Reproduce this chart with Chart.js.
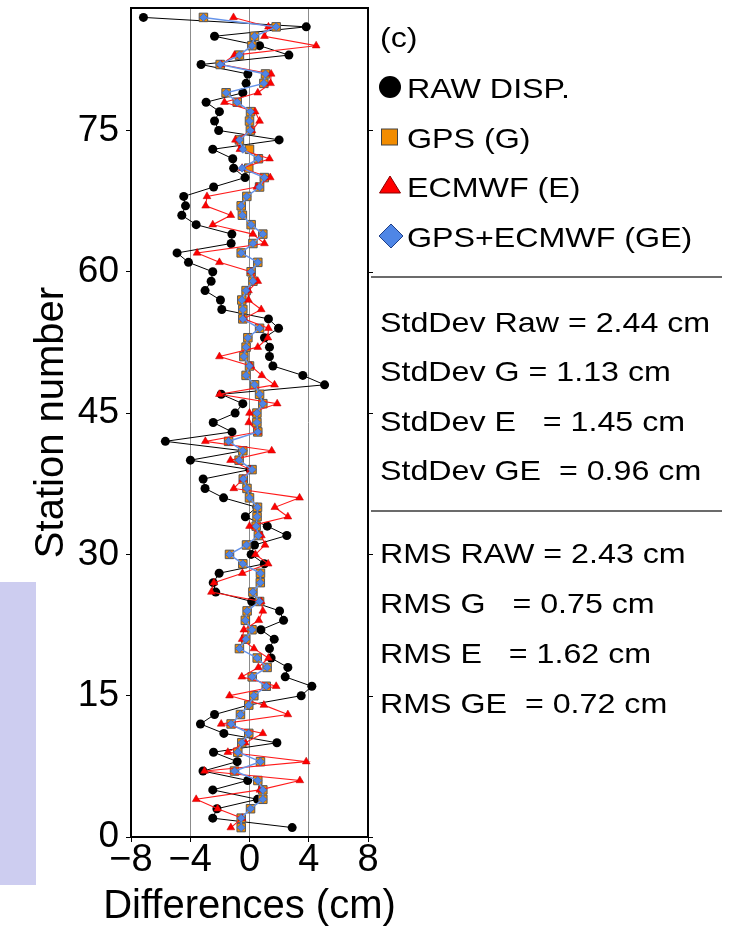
<!DOCTYPE html>
<html>
<head>
<meta charset="utf-8">
<script src="https://cdn.jsdelivr.net/npm/chart.js@4.4.0/dist/chart.umd.min.js"></script>
<style>
  html, body { margin: 0; padding: 0; background: #fff; }
  #wrap { position: relative; width: 738px; height: 928px; }
</style>
</head>
<body>
<div id="wrap"><canvas id="profile" width="738" height="928"></canvas></div>
<script>
// Station numbers along the profile
const stations = [
  1, 2, 3, 4, 5, 6, 7, 8, 9, 10, 11, 12, 13, 14, 15, 16, 17, 18, 19, 20,
  21, 22, 23, 24, 25, 26, 27, 28, 29, 30, 31, 32, 33, 34, 35, 36, 37, 38, 39, 40,
  41, 42, 43, 44, 45, 46, 47, 48, 49, 50, 51, 52, 53, 54, 55, 56, 57, 58, 59, 60,
  61, 62, 63, 64, 65, 66, 67, 68, 69, 70, 71, 72, 73, 74, 75, 76, 77, 78, 79, 80,
  81, 82, 83, 84, 85, 86, 87
];

// Differences (cm) per station
const rawDisp = [
  2.88, -2.48, -2.2, 0.54, -2.48, -0.12, -3.14, -0.83, -2.43, 1.85,
  -1.73, -3.31, -2.36, -0.07, 3.49, 4.21, 2.41, 2.59, 1.46, 1.35,
  1.67, 0.77, 2.3, 2.03, 0.15, -2.28, -2.45, -2.05, 1.0, 0.11,
  0.34, 2.52, 1.2, -0.28, 0.5, -1.75, -3.0, -3.13, 0.03, -3.99,
  -0.45, -5.68, -1.18, -2.45, -0.97, -0.45, -1.91, 5.07, 3.6, 1.58,
  1.35, 1.35, 1.01, 1.96, 1.28, -1.87, -1.96, -3.0, -2.59, -2.48,
  -4.12, -4.89, -1.24, -1.19, -3.6, -4.57, -4.32, -4.44, -2.42, -0.3,
  -1.07, -1.13, -2.48, 2.0, -2.08, -2.36, -2.03, -2.93, -0.45, -0.23,
  -0.11, -3.27, 2.66, 0.68, -2.36, 3.83, -7.16
];
const gpsCorr = [
  -0.56, -0.56, 0.07, 0.9, 0.9, 0.56, -1.01, 0.74, -0.79, -0.52,
  -0.05, -1.24, -0.61, -0.05, 0.29, 1.13, 0.18, 1.19, 0.52, -0.68,
  -0.25, 0.17, -0.28, -0.16, 0.68, 0.23, 0.73, 0.74, -0.45, -1.35,
  -0.2, 0.6, 0.45, 0.51, 0.54, 0.0, -0.17, -0.42, 0.17, -0.7,
  -0.45, -1.41, 0.56, 0.5, 0.5, 0.9, 0.68, 0.34, -0.23, 0.0,
  -0.38, -0.23, -0.11, 0.68, -0.45, -0.45, -0.52, -0.23, 0.23, 0.11,
  0.56, -0.56, 0.23, 0.9, 0.11, -0.48, -0.56, -0.18, 0.68, 1.0,
  -0.05, 0.6, 0.0, -0.68, 0.06, 0.0, 0.07, -0.83, -1.58, 0.97,
  1.08, -1.98, -0.68, 0.16, 0.34, 1.8, -3.11
];
const ecmwfCorr = [
  -1.26, -0.5, -2.15, -3.6, 0.7, 3.4, -3.04, 3.83, -1.46, -0.29,
  0.9, -1.91, 2.59, 0.97, -1.35, 1.8, -0.52, 0.6, 1.28, 0.3,
  -0.5, -0.38, 0.63, 0.9, 0.79, -2.57, -2.4, -0.48, 1.26, 0.4,
  1.05, 0.8, 0.0, 2.59, 1.71, 3.38, -1.06, -0.45, 0.05, -1.28,
  1.5, -2.98, 0.56, -0.05, 0.0, 1.87, -2.03, 1.69, 0.83, 0.1,
  -2.03, 0.56, 1.24, 1.28, -0.38, 0.79, -0.07, -0.07, 0.56, 0.1,
  -2.03, -3.54, 1.01, 0.23, -2.48, -1.26, -2.96, -2.87, 0.5, 1.4,
  -0.5, 1.35, -0.65, -0.95, 0.16, 0.68, 0.38, -1.69, 0.56, 1.42,
  1.46, -1.91, -1.01, 4.5, 1.01, 1.28, -1.08
];
const gpsEcmwfCorr = [
  -0.56, -0.56, 0.07, 0.9, 0.9, 0.56, -1.01, 0.74, -0.79, -0.52,
  -0.05, -1.24, -0.61, -0.05, 0.29, 1.13, 0.18, 1.19, 0.52, -0.68,
  -0.25, 0.17, -0.28, -0.16, 0.68, 0.23, 0.73, 0.74, -0.45, -1.35,
  -0.2, 0.6, 0.45, 0.51, 0.54, 0.0, -0.17, -0.42, 0.17, -0.7,
  -0.45, -1.41, 0.56, 0.5, 0.5, 0.9, 0.68, 0.34, -0.23, 0.0,
  -0.38, -0.23, -0.11, 0.68, -0.45, -0.45, -0.52, -0.23, 0.23, 0.11,
  0.56, -0.56, 0.23, 0.9, 0.11, -0.48, -0.56, -0.18, 0.68, 1.0,
  -0.5, 0.6, -0.45, -0.68, 0.06, 0.0, 0.07, -0.83, -1.58, 0.97,
  1.08, -1.98, -0.68, 0.16, 0.34, 1.8, -3.11
];

const xTicks = [-8, -4, 0, 4, 8];
const yTicks = [0, 15, 30, 45, 60, 75];
const xTitle = 'Differences (cm)';
const yTitle = 'Station number';

const panelLabel = '(c)';
const seriesNames = ['RAW DISP.', 'GPS (G)', 'ECMWF (E)', 'GPS+ECMWF (GE)'];
const stdDevLines = [
  'StdDev Raw = 2.44 cm',
  'StdDev G = 1.13 cm',
  'StdDev E   = 1.45 cm',
  'StdDev GE  = 0.96 cm'
];
const rmsLines = [
  'RMS RAW = 2.43 cm',
  'RMS G   = 0.75 cm',
  'RMS E   = 1.62 cm',
  'RMS GE  = 0.72 cm'
];

const FONT = '"Liberation Sans", Arial, Helvetica, sans-serif';
Chart.defaults.font.family = FONT;
Chart.defaults.color = '#000';

const toPoints = vals => vals.map((v, i) => ({ x: v, y: stations[i] }));
const minus = v => (v < 0 ? '\u2212' + Math.abs(v) : String(v));

// text with an optional horizontal stretch
function putText(ctx, str, x, y, size, sx, align) {
  ctx.save();
  ctx.translate(x, y);
  ctx.scale(sx, 1);
  ctx.font = size + 'px ' + FONT;
  ctx.fillStyle = '#000';
  ctx.textAlign = align || 'left';
  ctx.textBaseline = 'alphabetic';
  ctx.fillText(str, 0, 0);
  ctx.restore();
}

const framePlugin = {
  id: 'frameAndPanel',
  beforeDraw(chart) {
    const ctx = chart.ctx;
    ctx.save();
    ctx.fillStyle = '#fff';
    ctx.fillRect(0, 0, chart.width, chart.height);
    ctx.fillStyle = '#cdcdf0';
    ctx.fillRect(0, 582, 36, 303);
    ctx.restore();
  },
  afterDraw(chart) {
    const ctx = chart.ctx;
    const { left, right, top, bottom } = chart.chartArea;
    ctx.save();

    // plot frame
    ctx.strokeStyle = '#000';
    ctx.lineWidth = 2;
    ctx.strokeRect(left, top, right - left, bottom - top);
    ctx.lineWidth = 1;
    yTicks.forEach(v => {
      const py = Math.round(chart.scales.y.getPixelForValue(v)) + 0.5;
      ctx.beginPath();
      ctx.moveTo(right, py);
      ctx.lineTo(right + 5, py);
      ctx.stroke();
    });

    // x axis title, not squeezed to the axis width
    putText(ctx, xTitle, (left + right) / 2, 918, 40, 1, 'center');

    // legend
    putText(ctx, panelLabel, 380, 47, 28, 1.15);
    const lx = 390;
    ctx.lineWidth = 1;

    ctx.fillStyle = '#000';
    ctx.beginPath();
    ctx.arc(lx, 87, 11, 0, Math.PI * 2);
    ctx.fill();

    ctx.fillStyle = '#f28c00';
    ctx.strokeStyle = '#444';
    ctx.fillRect(381.5, 129, 16, 16);
    ctx.strokeRect(381.5, 129, 16, 16);

    ctx.fillStyle = '#ff0000';
    ctx.strokeStyle = '#8a0000';
    ctx.beginPath();
    ctx.moveTo(lx, 176);
    ctx.lineTo(lx + 10.5, 193);
    ctx.lineTo(lx - 10.5, 193);
    ctx.closePath();
    ctx.fill();
    ctx.stroke();

    ctx.fillStyle = '#4f86e6';
    ctx.strokeStyle = '#1f3f88';
    ctx.beginPath();
    ctx.moveTo(lx + 1, 224);
    ctx.lineTo(lx + 13, 236);
    ctx.lineTo(lx + 1, 248);
    ctx.lineTo(lx - 11, 236);
    ctx.closePath();
    ctx.fill();
    ctx.stroke();

    const nameBase = [98, 148, 197, 247];
    seriesNames.forEach((s, i) => putText(ctx, s, 407, nameBase[i], 28, 1.15));

    // separators
    ctx.strokeStyle = '#6b6b6b';
    ctx.lineWidth = 2;
    [277, 511].forEach(y => {
      ctx.beginPath();
      ctx.moveTo(371, y);
      ctx.lineTo(722, y);
      ctx.stroke();
    });

    // summary statistics
    const stdBase = [332, 381, 431, 480];
    stdDevLines.forEach((s, i) => putText(ctx, s, 380, stdBase[i], 28, 1.15));
    const rmsBase = [563, 613, 663, 713];
    rmsLines.forEach((s, i) => putText(ctx, s, 380, rmsBase[i], 28, 1.15));

    ctx.restore();
  }
};

new Chart(document.getElementById('profile'), {
  type: 'scatter',
  data: {
    datasets: [
      {
        label: seriesNames[0],
        data: toPoints(rawDisp),
        showLine: true,
        borderColor: '#000',
        borderWidth: 1,
        backgroundColor: '#000',
        pointStyle: 'circle',
        pointRadius: 4.5,
        pointBorderWidth: 0,
        order: 4
      },
      {
        label: seriesNames[1],
        data: toPoints(gpsCorr),
        showLine: false,
        backgroundColor: '#f28c00',
        borderColor: '#555',
        pointStyle: 'rect',
        pointRadius: 6,
        pointBorderWidth: 1,
        order: 3
      },
      {
        label: seriesNames[2],
        data: toPoints(ecmwfCorr),
        showLine: true,
        borderColor: '#ff1a1a',
        borderWidth: 1.1,
        backgroundColor: '#ff0000',
        pointBorderColor: '#c00000',
        pointStyle: 'triangle',
        pointRadius: 4.5,
        pointBorderWidth: 0.5,
        order: 2
      },
      {
        label: seriesNames[3],
        data: toPoints(gpsEcmwfCorr),
        showLine: true,
        borderColor: '#6593ea',
        borderWidth: 1.5,
        backgroundColor: '#4f86e6',
        pointBorderColor: '#2a55a8',
        pointStyle: 'rectRot',
        pointRadius: 4,
        pointBorderWidth: 0.5,
        order: 1
      }
    ]
  },
  options: {
    responsive: false,
    animation: false,
    events: [],
    layout: { padding: { top: 8, right: 370, left: 0, bottom: 0 } },
    plugins: {
      legend: { display: false },
      tooltip: { enabled: false }
    },
    scales: {
      x: {
        type: 'linear',
        min: -8,
        max: 8,
        afterBuildTicks: scale => { scale.ticks = xTicks.map(v => ({ value: v })); },
        afterFit: scale => { scale.height = 91; },
        ticks: {
          callback: v => minus(v),
          font: { size: 38, lineHeight: 1.0 },
          color: '#000',
          padding: 0,
          maxRotation: 0,
          autoSkip: false
        },
        grid: {
          color: c => (c.tick && Math.abs(c.tick.value) === 8 ? 'rgba(0,0,0,0)' : '#8c8c8c'),
          tickColor: '#000',
          lineWidth: 1,
          tickLength: 5
        },
        border: { display: false },
        title: { display: false }
      },
      y: {
        type: 'linear',
        min: 0,
        max: 88,
        afterBuildTicks: scale => { scale.ticks = yTicks.map(v => ({ value: v })); },
        afterFit: scale => {
          scale.width = 131;
          scale.paddingTop = 0;
          scale.paddingBottom = 0;
        },
        ticks: {
          font: { size: 37 },
          color: '#000',
          padding: 7,
          autoSkip: false
        },
        grid: {
          drawOnChartArea: false,
          tickColor: '#000',
          tickLength: 5
        },
        border: { display: false },
        title: {
          display: true,
          text: yTitle,
          font: { size: 40 },
          color: '#000',
          padding: { top: 28, bottom: 0 }
        }
      }
    }
  },
  plugins: [framePlugin]
});
</script>
</body>
</html>
